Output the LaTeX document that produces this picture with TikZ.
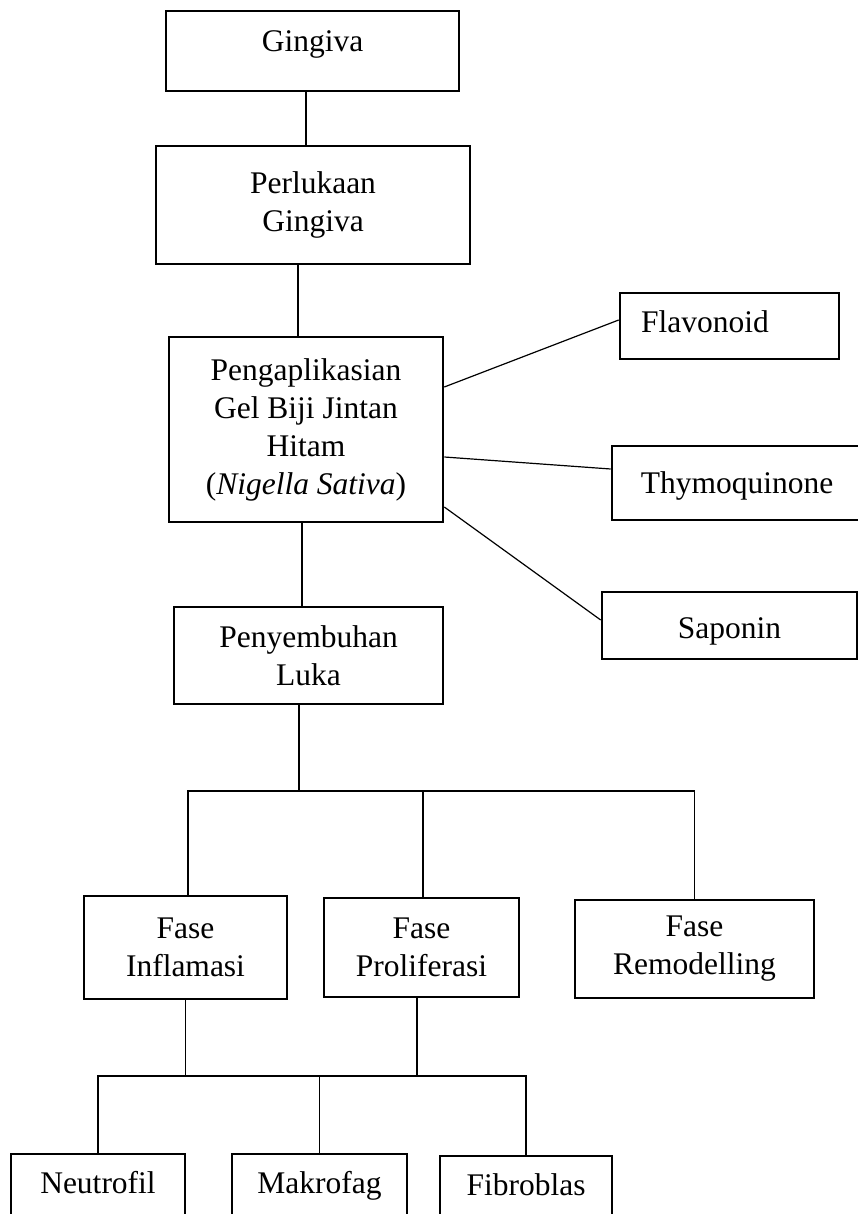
\documentclass[tikz,border=0pt]{standalone}
\usepackage{fontspec}
\setmainfont{Liberation Serif}
\usepackage{tikz}
\usetikzlibrary{positioning,calc}
\tikzset{kotak/.style={draw,line width=2.6pt,inner sep=0pt,align=center,font=\fontsize{31.5}{38}\selectfont},
  potong/.style={kotak,text height=21.5pt,text depth=23.5pt},
  garis/.style={line width=1.2pt}}

\begin{document}
\begin{tikzpicture}[x=1pt,y=-1pt]
  \useasboundingbox (0,0) rectangle (858,1214);
  \clip (0,0) rectangle (858,1214);
  % alur utama
  \node[kotak,minimum width=293pt,minimum height=80pt,text height=21.5pt,text depth=19.5pt] (gingiva) at (312.5,51) {Gingiva};
  \node[kotak,minimum width=314pt,minimum height=118pt] (luka1) at (313,205) {Perlukaan\\Gingiva};
  \node[kotak,minimum width=274pt,minimum height=185pt] (gel) at (306,429.5) {Pengaplikasian\\Gel Biji Jintan\\Hitam\\(\textit{Nigella Sativa})};
  \node[kotak,minimum width=269pt,minimum height=97pt] (sembuh) at (308.5,655.5) {Penyembuhan\\Luka};
  % kandungan
  \node[kotak,minimum width=219pt,minimum height=66pt,text width=177pt,align=left,text height=21.5pt,text depth=9.5pt] (flav) at (729.5,326) {Flavonoid};
  \node[kotak,minimum width=250pt,minimum height=74pt,text height=21.5pt,text depth=1.5pt] (thymo) at (737,483) {Thymoquinone};
  \node[kotak,minimum width=255pt,minimum height=67pt,text height=25pt,text depth=0pt] (sapo) at (729.5,625.5) {Saponin};
  % fase
  \node[kotak,minimum width=203pt,minimum height=103pt] (inflam) at (185.5,947.5) {Fase\\Inflamasi};
  \node[kotak,minimum width=195pt,minimum height=99pt] (prolif) at (421.5,947.5) {Fase\\Proliferasi};
  \node[kotak,minimum width=239pt,minimum height=98pt] (remod) at (694.5,949) {Fase\\Remodelling};
  % sel
  \node[potong,minimum width=174pt,minimum height=80pt] (neutro) at (98,1194) {Neutrofil};
  \node[potong,minimum width=175pt,minimum height=80pt] (makro) at (319.5,1194) {Makrofag};
  \node[potong,minimum width=172pt,minimum height=80pt] (fibro) at (526,1196) {Fibroblas};
  \coordinate (cab1) at (0,791);
  \coordinate (cab2) at (0,1076);

  \draw[garis] ([xshift=-6.5pt]gingiva.south) -- ([xshift=-7pt]luka1.north);
  \draw[garis] ([xshift=-15pt]luka1.south) -- ([xshift=-8pt]gel.north);
  \draw[garis] ([xshift=-4pt]gel.south) -- ([xshift=-6.5pt]sembuh.north);
  \draw[garis] ([yshift=42.5pt]gel.east) -- ([yshift=6pt]flav.west);
  \draw[garis] ([yshift=-27.5pt]gel.east) -- ([yshift=14pt]thymo.west);
  \draw[garis] ([yshift=-77.5pt]gel.east) -- ([yshift=5.5pt]sapo.west);
  \draw[garis] ([xshift=-9.5pt]sembuh.south) -- ([xshift=-9.5pt]sembuh.south |- cab1);
  \draw[garis] ([xshift=2.5pt]inflam.north) |- (cab1 -| remod.north) -- (remod.north);
  \draw[garis] ([xshift=1.5pt]prolif.north) -- ([xshift=1.5pt]prolif.north |- cab1);
  \draw[garis] (inflam.south) -- (inflam.south |- cab2);
  \draw[garis] ([xshift=-4.5pt]prolif.south) -- ([xshift=-4.5pt]prolif.south |- cab2);
  \draw[garis] (neutro.north) |- (cab2 -| fibro.north) -- (fibro.north);
  \draw[garis] (makro.north) -- (makro.north |- cab2);
\end{tikzpicture}
\end{document}
